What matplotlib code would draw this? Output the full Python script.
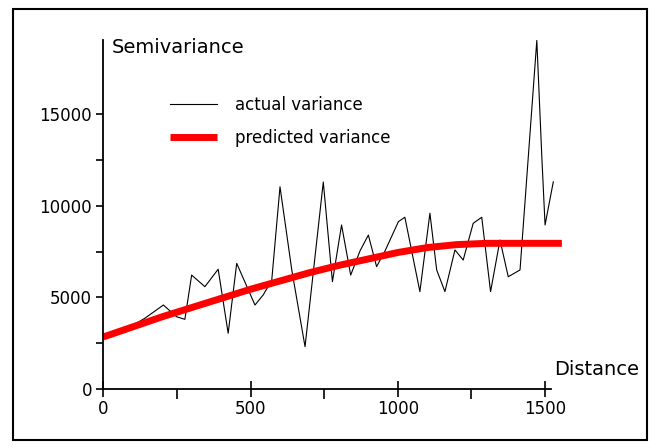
import matplotlib
matplotlib.use("Agg")
import matplotlib.pyplot as plt
from matplotlib.patches import Rectangle

# =============================
# Data
# =============================
actual_dist = [60, 100, 142, 204, 249, 277, 300, 345, 390, 424, 453, 515, 543, 572,
               600, 640, 685, 747, 778, 809, 840, 872, 900, 928, 957, 1002, 1024,
               1075, 1109, 1132, 1160, 1194, 1222, 1256, 1285, 1315, 1347, 1375,
               1415, 1472, 1489, 1500, 1528]
actual_var = [3200, 3480, 3880, 4590, 3950, 3810, 6220, 5590, 6540, 3050, 6860, 4590,
              5140, 5950, 11030, 6500, 2320, 11290, 5860, 8950, 6220, 7550, 8400,
              6680, 7550, 9130, 9370, 5320, 9590, 6500, 5320, 7590, 7040, 9040, 9370,
              5320, 8130, 6130, 6500, 19000, 12670, 8950, 11300]

pred_dist = [0, 100, 200, 300, 400, 500, 600, 700, 800, 900, 1000, 1100, 1200, 1300,
             1400, 1557]
pred_var = [2850, 3400, 3950, 4450, 4950, 5450, 5900, 6350, 6750, 7100, 7450, 7720,
            7880, 7950, 7950, 7950]

x_major = [0, 500, 1000, 1500]
y_major = [0, 5000, 10000, 15000]

# =============================
# Figure
# =============================
W, H = 654, 448
fig = plt.figure(figsize=(W / 100, H / 100), dpi=100)
fig.patch.set_facecolor("white")

# outer frame
fig.patches.append(Rectangle((13 / W, 1 - 440 / H), (647 - 13) / W, (440 - 9) / H,
                             transform=fig.transFigure, fill=False,
                             edgecolor="black", linewidth=1.5))

ax = fig.add_axes([103.3 / W, (H - 389.3) / H, 460.9 / W, 350.7 / H])
ax.set_xlim(0, 1565)
ax.set_ylim(0, 19100)

ax.plot(actual_dist, actual_var, color="black", lw=0.8, clip_on=False,
        label="actual variance")
ax.plot(pred_dist, pred_var, color="#ff0000", lw=5, solid_capstyle="butt",
        clip_on=False, label="predicted variance")

for s in ["top", "right"]:
    ax.spines[s].set_visible(False)
ax.spines["left"].set_bounds(0, 19000)
ax.spines["bottom"].set_bounds(0, 1520)
for s in ["left", "bottom"]:
    ax.spines[s].set_linewidth(1.3)

ax.set_xticks(x_major)
ax.set_xticks(range(250, 1500, 500), minor=True)
ax.set_yticks(y_major)
ax.set_yticks(range(2500, 17500, 5000), minor=True)
ax.tick_params(axis="x", which="major", direction="inout", length=12, width=1.2,
               labelsize=12, pad=2)
ax.tick_params(axis="x", which="minor", direction="out", length=7, width=1.2)
ax.tick_params(axis="y", which="both", direction="out", length=5, width=1.2,
               labelsize=12, pad=3)

ax.text(30, 18590, "Semivariance", fontsize=14, va="center", ha="left")
ax.text(1530, 1100, "Distance", fontsize=14, va="center", ha="left", clip_on=False)

ax.legend(loc="upper left", bbox_to_anchor=(170 / W, 1 - 96 / H),
          bbox_transform=fig.transFigure, frameon=False, fontsize=12,
          handlelength=2.8, handletextpad=1.1, labelspacing=0.9,
          borderpad=0, borderaxespad=0)

plt.savefig("out.png", dpi=100)
plt.close()
